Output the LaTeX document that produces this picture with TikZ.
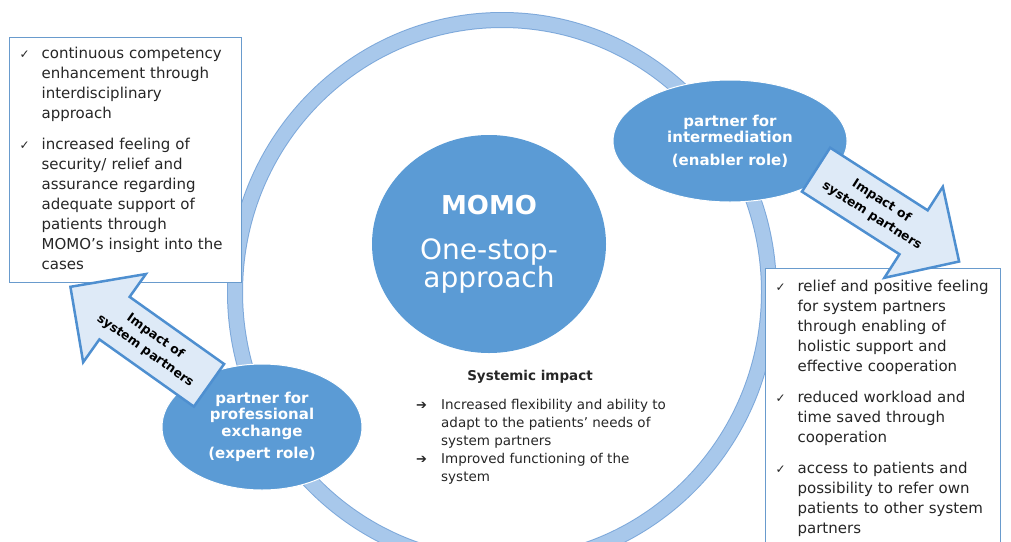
\documentclass[tikz,border=0pt]{standalone}
\usepackage{fontspec}
\setmainfont{DejaVu Sans}
\usetikzlibrary{shapes.geometric,shapes.arrows}

\definecolor{momoblue}{RGB}{91,155,213}
\definecolor{ringfill}{RGB}{168,200,235}
\definecolor{ringedge}{RGB}{125,168,218}
\definecolor{arrowfill}{RGB}{222,234,247}
\definecolor{arrowblue}{RGB}{78,143,208}
\definecolor{boxblue}{RGB}{105,155,205}
\definecolor{textgray}{RGB}{38,38,38}

\newcommand{\chkmark}{{\fontsize{12}{12}\selectfont ✓}}
\newcommand{\sysarrow}{{\fontsize{13}{13}\selectfont ➔}}

\begin{document}
\begin{tikzpicture}[x=1pt,y=-1pt,text=textgray]
\tikzstyle{role}=[ellipse,fill=momoblue,draw=white,line width=1pt,inner sep=0pt,
  text=white,align=center,font=\bfseries\fontsize{15}{16.5}\selectfont]
\tikzstyle{listbox}=[draw=boxblue,line width=1.2pt,fill=white,anchor=north west,
  inner xsep=10pt,font=\fontsize{15}{20}\selectfont]
\tikzstyle{impact}=[single arrow,draw=arrowblue,line width=2.5pt,fill=arrowfill,
  single arrow head extend=28pt,minimum height=170pt,inner xsep=0pt,inner ysep=10pt,
  text=black,align=center,font=\bfseries\fontsize{12.5}{16}\selectfont]
\useasboundingbox (0,0) rectangle (1011,541);
\clip (0,0) rectangle (1011,541);

\node [ellipse,draw=ringedge,double=ringfill,double distance=14pt,line width=1pt,
       minimum width=534pt,minimum height=544pt,inner sep=0pt] (ring) at (502,292) {};

\node [ellipse,fill=momoblue,minimum width=234pt,minimum height=218pt,inner sep=0pt,
       text=white,align=center,font=\fontsize{28}{26}\selectfont] (momo) at (489,244)
      {{\bfseries\fontsize{26}{26}\selectfont MOMO}\\[19pt]One-stop-\\approach};

\node [role,minimum width=234pt,minimum height=122pt] (enabler) at (730,141)
      {partner for\\intermediation\\[6pt](enabler role)};
\node [role,minimum width=200pt,minimum height=126pt] (expert) at (262,427)
      {partner for\\professional\\exchange\\[6pt](expert role)};

\node [listbox,text width=212pt,minimum height=245pt] (expertlist) at (9,37) {%
  \begin{tabular}{@{}p{22pt}@{}l@{}}
  \chkmark & continuous competency\\
           & enhancement through\\
           & interdisciplinary\\
           & approach\\[11pt]
  \chkmark & increased feeling of\\
           & security/ relief and\\
           & assurance regarding\\
           & adequate support of\\
           & patients through\\
           & MOMO's insight into the\\
           & cases
  \end{tabular}};

\node [listbox,text width=215pt,inner ysep=9pt] (enablerlist) at (765,268) {%
  \begin{tabular}{@{}p{22pt}@{}l@{}}
  \chkmark & relief and positive feeling\\
           & for system partners\\
           & through enabling of\\
           & holistic support and\\
           & effective cooperation\\[11pt]
  \chkmark & reduced workload and\\
           & time saved through\\
           & cooperation\\[11pt]
  \chkmark & access to patients and\\
           & possibility to refer own\\
           & patients to other system\\
           & partners
  \end{tabular}};

\node [impact,rotate=-32.7,anchor=tail] (toenabler) at (815,169)
      {Impact of\\[1.5pt]system partners};
\node [impact,shape border rotate=180,rotate=-35.4,anchor=tail] (toexpert) at (210,386)
      {Impact of\\[1.5pt]system partners};

\node [font=\bfseries\fontsize{13.5}{15}\selectfont] (sysimpact) at (530,377) {Systemic impact};
\node [anchor=north west,inner sep=0pt,font=\fontsize{13.5}{18}\selectfont] (sysitems) at (416,397) {%
  \begin{tabular}{@{}p{25pt}@{}l@{}}
  \sysarrow & Increased flexibility and ability to\\
            & adapt to the patients' needs of\\
            & system partners\\
  \sysarrow & Improved functioning of the\\
            & system
  \end{tabular}};
\end{tikzpicture}
\end{document}
